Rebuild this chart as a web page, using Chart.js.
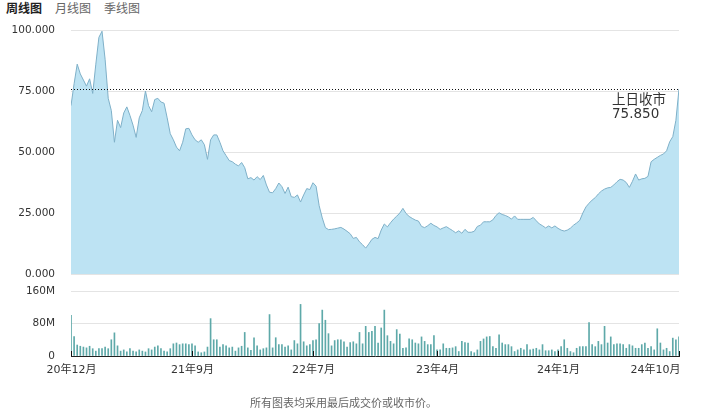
<!DOCTYPE html>
<html>
<head>
<meta charset="utf-8">
<script src="https://cdn.jsdelivr.net/npm/chart.js@4/dist/chart.umd.min.js"></script>
<style>
  body { margin: 0; background: #fff; font-family: "DejaVu Sans", "Noto Sans CJK SC", sans-serif; }
  #wrap { position: relative; width: 711px; height: 420px; overflow: hidden; }
  .tab { position: absolute; top: 0; font-size: 12px; line-height: 16px; color: #666; font-family: "Noto Sans CJK SC", sans-serif; }
  .tab.on { color: #222; font-weight: bold; }
  #price { position: absolute; left: 0; top: 0; }
  #volume { position: absolute; left: 0; top: 280px; }
  #note { position: absolute; left: 250px; top: 394px; font-size: 11px; color: #666; font-family: "Noto Sans CJK SC", sans-serif; }
</style>
</head>
<body>
<div id="wrap">
  <span class="tab on" style="left:6px">周线图</span>
  <span class="tab" style="left:55px">月线图</span>
  <span class="tab" style="left:104px">季线图</span>
  <canvas id="price" width="711" height="282"></canvas>
  <canvas id="volume" width="711" height="140"></canvas>
  <div id="note">所有图表均采用最后成交价或收市价。</div>
</div>
<script>
// weekly closing price, 20年12月 .. 24年10月
const weeklyClose = [
  69, 78, 86, 82, 79.5, 77, 80, 74, 86, 97,
  99.5, 88, 72, 67, 54, 63, 60, 66, 68.5, 65,
  61, 56, 64, 67, 75, 69, 66.5, 71.5, 72, 70.5,
  70, 64, 57.5, 55, 52, 50.5, 54, 59.5, 59.7, 57,
  55, 54, 55, 53, 47, 55, 57, 57, 54, 50.5,
  48.5, 46.5, 46, 45, 44.3, 45.7, 43.6, 39, 39.5, 38.5,
  39.9, 38.7, 40.4, 36.5, 33.5, 33.3, 35, 37.3, 35.8, 33,
  35.6, 31.7, 31.4, 32.4, 29.5, 32.4, 35, 34.6, 37.4, 36,
  28, 23, 19, 18.2, 18.3, 18.5, 18.8, 19.1, 18.4, 17.5,
  16.5, 14.6, 15, 13.2, 12, 10.6, 12.3, 14.2, 15, 14.5,
  18, 20.5, 19.3, 21, 22.5, 23.7, 25, 26.9, 24.8, 23.6,
  22.8, 22.1, 21.7, 19.5, 19, 19.8, 20.8, 19.9, 19.3, 18.3,
  18.9, 19.4, 18.6, 17.8, 16.9, 17.7, 16.7, 18.3, 17.1, 17.1,
  17.5, 19.5, 20, 21.4, 21.4, 21.4, 22.2, 24, 25.1, 24.4,
  24, 23.4, 22.5, 23.8, 22.4, 22.4, 22.4, 22.4, 22.4, 23.2,
  21.8, 20.5, 19.8, 18.9, 19.7, 18.9, 19.7, 18.7, 18, 17.6,
  18, 18.8, 20, 20.9, 22, 25, 27.5, 29, 30.3, 31.3,
  32.8, 34, 34.8, 35.3, 35.5, 36.5, 37.8, 38.8, 38.5, 37.5,
  35.5, 38, 41, 38.5, 39, 39.2, 40, 46, 47, 47.8,
  48.6, 49.2, 50.5, 54.2, 56.3, 63, 75.85
];

// weekly volume, millions
const weeklyVolume = [
  100, 48, 27, 24, 22, 20, 24, 18, 12, 18,
  18, 22, 18, 40, 57, 25, 12, 15, 10, 18,
  12, 10, 15, 12, 10, 18, 15, 22, 25, 18,
  12, 10, 18, 30, 32, 28, 30, 30, 28, 30,
  25, 10, 8, 10, 22, 92, 40, 40, 22, 28,
  25, 20, 22, 12, 20, 24, 58, 20, 14, 45,
  25, 15, 18, 20, 102, 20, 45, 28, 28, 22,
  25, 15, 38, 30, 127, 35, 25, 28, 38, 40,
  80, 113, 88, 55, 25, 38, 40, 40, 35, 22,
  33, 35, 30, 58, 30, 73, 58, 61, 73, 32,
  69, 113, 50, 36, 30, 65, 54, 19, 20, 42,
  40, 32, 30, 47, 36, 28, 28, 50, 15, 15,
  30, 19, 19, 20, 23, 11, 36, 33, 32, 11,
  8, 15, 36, 42, 47, 48, 23, 19, 52, 32,
  28, 28, 23, 11, 15, 19, 15, 28, 15, 17,
  19, 15, 28, 13, 13, 15, 11, 15, 23, 40,
  19, 11, 8, 19, 23, 23, 23, 82, 28, 23,
  36, 28, 73, 32, 47, 28, 30, 30, 28, 19,
  28, 25, 19, 19, 28, 32, 19, 23, 15, 67,
  32, 15, 19, 11, 44, 40, 47
];

const xTickWeeks = [0, 39, 78, 118, 157, 196];
const xTickLabels = ['20年12月', '21年9月', '22年7月', '23年4月', '24年1月', '24年10月'];
const prevClose = 75.85;

const FONT = '"DejaVu Sans", "Noto Sans CJK SC", sans-serif';
Chart.defaults.font.family = FONT;
Chart.defaults.font.size = 10.5;
Chart.defaults.color = '#333';

const lastWeek = weeklyClose.length - 1;

// dotted line + label for previous close
const prevClosePlugin = {
  id: 'prevClose',
  afterDatasetsDraw(chart) {
    const { ctx, chartArea, scales } = chart;
    const y = Math.round(scales.y.getPixelForValue(prevClose)) + 0.5;
    ctx.save();
    ctx.strokeStyle = '#111';
    ctx.lineWidth = 1;
    ctx.setLineDash([1, 2]);
    ctx.beginPath();
    ctx.moveTo(chartArea.left, y);
    ctx.lineTo(chartArea.right, y);
    ctx.stroke();
    ctx.setLineDash([]);
    ctx.fillStyle = '#333';
    ctx.font = '13.5px ' + FONT;
    ctx.textAlign = 'left';
    ctx.textBaseline = 'middle';
    ctx.fillText('上日收市', chartArea.right - 67, y + 11);
    ctx.fillText(prevClose.toFixed(3), chartArea.right - 67, y + 25);
    ctx.restore();
  }
};

// x labels under the volume panel, small ticks pointing up
const xLabelPlugin = {
  id: 'xLabels',
  afterDraw(chart) {
    const { ctx, chartArea, scales } = chart;
    ctx.save();
    ctx.font = '11px ' + FONT;
    ctx.fillStyle = '#333';
    ctx.strokeStyle = '#111';
    ctx.lineWidth = 1;
    ctx.textBaseline = 'middle';
    xTickWeeks.forEach((w, k) => {
      const px = Math.round(scales.x.getPixelForValue(w)) + 0.5;
      ctx.beginPath();
      ctx.moveTo(px, chartArea.bottom);
      ctx.lineTo(px, chartArea.bottom - 5);
      ctx.stroke();
      const last = k === xTickWeeks.length - 1;
      ctx.textAlign = last ? 'right' : 'center';
      ctx.fillText(xTickLabels[k], last ? px + 1 : px, chartArea.bottom + 14);
    });
    ctx.restore();
  }
};

// y axis: tick gap comes from an invisible tick mark so it doesn't add vertical padding
const yGrid = { color: '#e4e4e4', drawTicks: true, tickLength: 16, tickColor: 'rgba(0,0,0,0)' };

new Chart(document.getElementById('price'), {
  type: 'line',
  data: {
    datasets: [{
      data: weeklyClose.map((v, i) => ({ x: i, y: v })),
      borderColor: '#7fb0c8',
      borderWidth: 1,
      backgroundColor: '#bde3f3',
      fill: 'origin',
      pointRadius: 0,
      tension: 0
    }]
  },
  options: {
    animation: false,
    responsive: false,
    devicePixelRatio: 1,
    layout: { padding: { top: 30, bottom: 8, left: 0, right: 32 } },
    plugins: { legend: { display: false }, tooltip: { enabled: false } },
    scales: {
      x: { type: 'linear', display: false, min: 0, max: lastWeek },
      y: {
        min: 0,
        max: 100,
        afterFit: (s) => { s.width = 71; },
        ticks: { stepSize: 25, padding: 0, callback: (v) => v.toFixed(3) },
        grid: yGrid,
        border: { display: false }
      }
    }
  },
  plugins: [prevClosePlugin]
});

new Chart(document.getElementById('volume'), {
  type: 'bar',
  data: {
    datasets: [{
      data: weeklyVolume.map((v, i) => ({ x: i, y: v })),
      backgroundColor: '#5ea9a9',
      barThickness: 1
    }]
  },
  options: {
    animation: false,
    responsive: false,
    devicePixelRatio: 1,
    layout: { padding: { top: 11, bottom: 34, left: 0, right: 32 } },
    plugins: { legend: { display: false }, tooltip: { enabled: false } },
    scales: {
      x: {
        type: 'linear',
        min: 0,
        max: lastWeek,
        offset: false,
        afterFit: (s) => { s.height = 30; },
        ticks: { display: false },
        grid: { display: false },
        border: { display: true, color: '#222', width: 1 }
      },
      y: {
        min: 0,
        max: 160,
        afterFit: (s) => { s.width = 71; },
        ticks: { stepSize: 80, padding: 0, callback: (v) => (v === 0 ? '0' : v + 'M') },
        grid: yGrid,
        border: { display: false }
      }
    }
  },
  plugins: [xLabelPlugin]
});
</script>
</body>
</html>
